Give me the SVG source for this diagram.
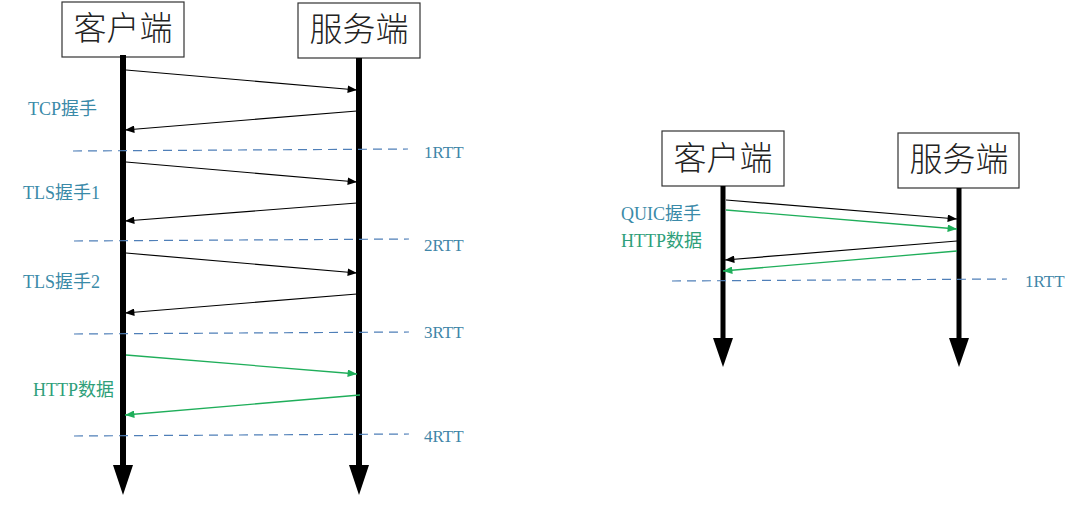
<svg xmlns="http://www.w3.org/2000/svg" width="1080" height="530" viewBox="0 0 1080 530">
<style>
.box{fill:#fff;stroke:#333;stroke-width:1.2}
.title{font-family:"Noto Sans CJK SC","Liberation Serif",serif;font-size:33px;font-weight:300;fill:#222;text-anchor:middle}
.life{stroke:#000;stroke-width:6}
.head{fill:#000}
.msg{stroke:#000;stroke-width:1.2;fill:none;marker-end:url(#ab)}
.msgg{stroke:#1fae5a;stroke-width:1.3;fill:none;marker-end:url(#ag)}
.dash{stroke:#4f7fb8;stroke-width:1.2;stroke-dasharray:9 6;fill:none}
.lbl{font-family:"Liberation Serif","Noto Sans CJK SC",serif;font-size:18px;fill:#3a8aa8}
.lblg{font-family:"Liberation Serif","Noto Sans CJK SC",serif;font-size:18px;fill:#2f9f7a}
.rtt{font-family:"Liberation Serif",serif;font-size:17px;fill:#3f86a8}
</style>
<defs>
<marker id="ab" viewBox="0 0 10 8" refX="10" refY="4" markerWidth="10" markerHeight="7.5" markerUnits="userSpaceOnUse" orient="auto"><path d="M0,0 L10,4 L0,8 z" fill="#000"/></marker>
<marker id="ag" viewBox="0 0 10 8" refX="10" refY="4" markerWidth="10" markerHeight="7.5" markerUnits="userSpaceOnUse" orient="auto"><path d="M0,0 L10,4 L0,8 z" fill="#1fae5a"/></marker>
</defs>

<g id="tcp-client">
<rect class="box" x="62" y="2" width="122" height="55"/>
<text class="title" x="123" y="40">客户端</text>
<line class="life" x1="123" y1="55" x2="123" y2="468"/>
<polygon class="head" points="113,465 133,465 123,495"/>
</g>
<g id="tcp-server">
<rect class="box" x="298" y="3" width="122" height="55"/>
<text class="title" x="359" y="41">服务端</text>
<line class="life" x1="359" y1="58" x2="359" y2="468"/>
<polygon class="head" points="349,465 369,465 359,495"/>
</g>

<g id="quic-client">
<rect class="box" x="662" y="131" width="122" height="55"/>
<text class="title" x="723" y="170">客户端</text>
<line class="life" x1="723" y1="186" x2="723" y2="340" style="stroke-width:5"/>
<polygon class="head" points="713,338 733,338 723,367"/>
</g>
<g id="quic-server">
<rect class="box" x="898" y="133" width="121" height="55"/>
<text class="title" x="959" y="171">服务端</text>
<line class="life" x1="959" y1="188" x2="959" y2="340" style="stroke-width:5"/>
<polygon class="head" points="949,338 969,338 959,367"/>
</g>

<g id="connectors">
<line class="msg" x1="126" y1="70" x2="357" y2="90"/>
<line class="msg" x1="357" y1="111" x2="125" y2="130"/>
<line class="msg" x1="126" y1="162" x2="357" y2="182"/>
<line class="msg" x1="357" y1="203" x2="125" y2="221"/>
<line class="msg" x1="126" y1="253" x2="357" y2="273"/>
<line class="msg" x1="357" y1="294" x2="125" y2="313"/>
<line class="msgg" x1="126" y1="355" x2="357" y2="374"/>
<line class="msgg" x1="360" y1="395" x2="125" y2="415"/>

<line class="dash" x1="73" y1="151" x2="408" y2="149"/>
<line class="dash" x1="74" y1="241" x2="409" y2="239"/>
<line class="dash" x1="74" y1="334" x2="409" y2="332"/>
<line class="dash" x1="74" y1="436" x2="409" y2="434"/>

<line class="msg" x1="726" y1="200" x2="957" y2="219"/>
<line class="msgg" x1="726" y1="210" x2="957" y2="229"/>
<line class="msg" x1="957" y1="241" x2="725" y2="260"/>
<line class="msgg" x1="957" y1="251" x2="723" y2="271"/>
<line class="dash" x1="672" y1="281" x2="1007" y2="279"/>
</g>

<g id="labels">
<text class="lbl" x="28" y="115">TCP握手</text>
<text class="lbl" x="23" y="199">TLS握手1</text>
<text class="lbl" x="23" y="288">TLS握手2</text>
<text class="lblg" x="33" y="396">HTTP数据</text>
<text class="rtt" x="424" y="158">1RTT</text>
<text class="rtt" x="424" y="251">2RTT</text>
<text class="rtt" x="424" y="338">3RTT</text>
<text class="rtt" x="424" y="442">4RTT</text>
<text class="lbl" x="621" y="220">QUIC握手</text>
<text class="lblg" x="621" y="247">HTTP数据</text>
<text class="rtt" x="1025" y="287">1RTT</text>
</g>
</svg>
